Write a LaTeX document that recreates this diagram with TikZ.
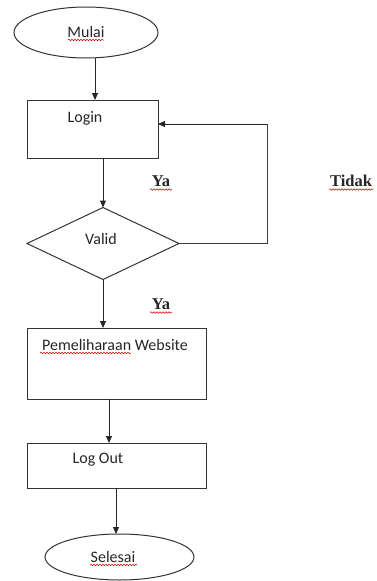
\documentclass[tikz,border=0pt]{standalone}
\usepackage{fontspec}
\setmainfont{Carlito}
\newfontfamily\serifb{Liberation Serif}
\usetikzlibrary{shapes.geometric,arrows.meta,decorations.pathmorphing}
\begin{document}
\begin{tikzpicture}[x=1pt,y=-1pt,
  shp/.style={draw=black!80,line width=1pt,inner sep=0pt,outer sep=0pt},
  boxs/.style={shp,rectangle},
  ovals/.style={shp,ellipse},
  dias/.style={shp,diamond},
  txt/.style={inner sep=0pt,font=\fontsize{16}{19}\selectfont,text=black!85},
  yt/.style={inner sep=0pt,font=\serifb\bfseries\fontsize{16.5}{19}\selectfont,text=black!85},
  arr/.style={draw=black!85,line width=1pt,-{Triangle[width=6pt,length=7pt]}},
  ln/.style={draw=black!75,line width=1pt},
  squig/.style={draw=red!80!black,line width=0.5pt,decorate,decoration={snake,amplitude=0.8pt,segment length=3pt}}]
\useasboundingbox (0,0) rectangle (376,581);
% shapes
\node[ovals,minimum width=144pt,minimum height=51pt] (mulai) at (86,32.5) {};
\node[boxs,minimum width=131pt,minimum height=58pt] (login) at (92.5,129) {};
\node[dias,minimum width=152pt,minimum height=72pt] (valid) at (103,243.5) {};
\node[boxs,minimum width=179pt,minimum height=71pt] (pem) at (116.5,363.5) {};
\node[boxs,minimum width=179pt,minimum height=45pt] (logout) at (116.5,465.5) {};
\node[ovals,minimum width=149pt,minimum height=46pt] (selesai) at (119.5,557) {};
% texts
\node[txt] (tmulai) at (86,32) {Mulai};
\node[txt] (tlogin) at (85,118) {Login};
\node[txt] (tvalid) at (101,239) {Valid};
\node[txt] (tpem) at (115,345) {Pemeliharaan Website};
\node[txt] (tlogout) at (98,460) {Log Out};
\node[txt] (tselesai) at (113,557) {Selesai};
\node[yt] (ya1) at (161,181) {Ya};
\node[yt] (ya2) at (161,304) {Ya};
\node[yt] (tidak) at (351,181) {Tidak};
% squiggly spell marks
\draw[squig] (68,40) -- (104,40);
\draw[squig] (150,189.5) -- (172,189.5);
\draw[squig] (150,312.5) -- (172,312.5);
\draw[squig] (329,189.5) -- (373,189.5);
\draw[squig] (40,353) -- (131,353);
\draw[squig] (90,565) -- (137,565);
% connectors
\coordinate (c1) at (95,0);
\draw[arr] (c1 |- mulai.south) -- (c1 |- login.north);
\draw[arr] (valid.north |- login.south) -- (valid.north);
\coordinate (loop) at (267,124);
\draw[ln] (valid.east) -- (valid.east -| loop) -- (loop);
\draw[arr] (loop) -- (loop -| login.east);
\draw[arr] (valid.south) -- (valid.south |- pem.north);
\coordinate (c2) at (109,0);
\draw[arr] (c2 |- pem.south) -- (c2 |- logout.north);
\coordinate (c3) at (116,0);
\draw[arr] (c3 |- logout.south) -- (c3 |- selesai.north);
\end{tikzpicture}
\end{document}
